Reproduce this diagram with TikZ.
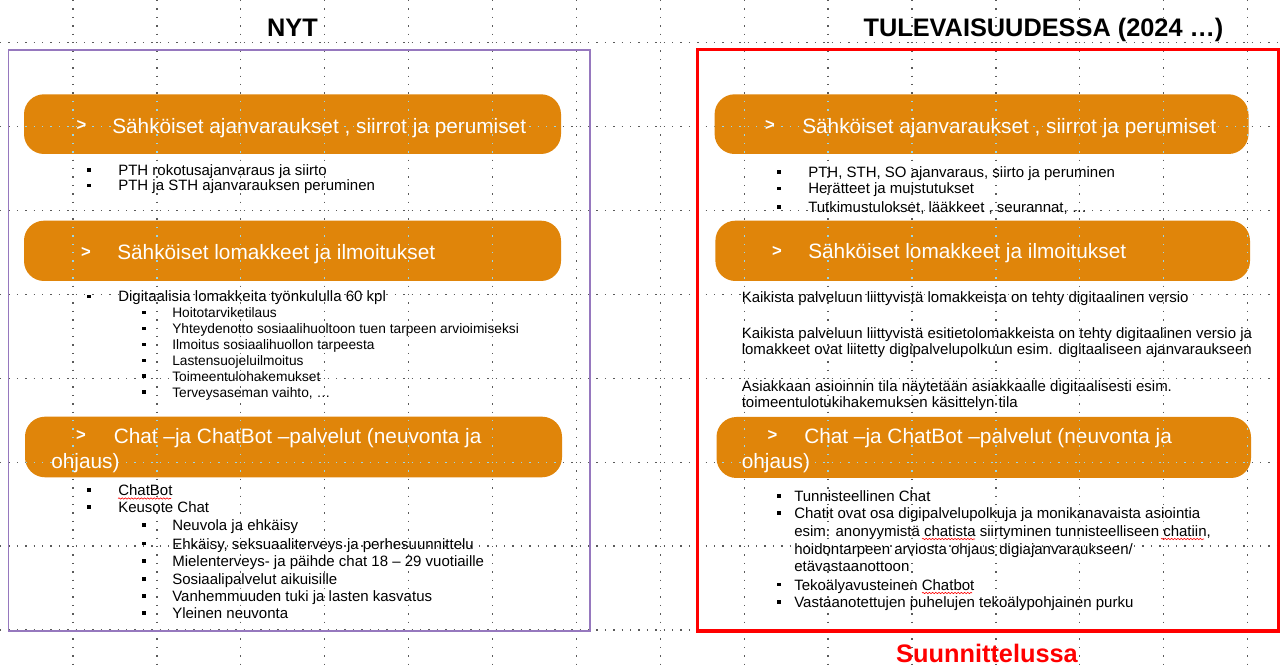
\documentclass[tikz,border=0pt]{standalone}
\usepackage{fontspec}
\setmainfont{Liberation Sans}
\usetikzlibrary{decorations.pathmorphing}
\definecolor{pillorange}{RGB}{224,133,10}
\definecolor{boxpurple}{RGB}{150,120,190}
\definecolor{gridcyan}{RGB}{150,215,235}
\definecolor{griddot}{RGB}{90,90,90}
\tikzset{
  pill/.style={fill=pillorange, rounded corners=15pt},
  body/.style={inner sep=0pt, anchor=base west, font=\fontsize{11.25}{13}\selectfont},
  bodysmall/.style={body, font=\fontsize{10.3}{12}\selectfont},
  head/.style={inner sep=0pt, anchor=base west, text=white, font=\fontsize{15.6}{18}\selectfont},
  arrowmark/.style={inner sep=0pt, text=white, font=\bfseries\fontsize{12.5}{14}\selectfont},
  title/.style={inner sep=0pt, anchor=base, font=\bfseries\fontsize{19}{22}\selectfont},
  gridline/.style={line width=1pt, dash pattern=on 1pt off 5.3pt},
  spell/.style={red, line width=0.45pt, decorate, decoration={snake, amplitude=0.5pt, segment length=2.4pt}}
}
\newcommand\bitem[6][body]{%
  \fill ({#3-1.8},{#5-7.4}) rectangle ({#3+1.8},{#5-3.7});
  \node[#1] (#2) at (#4,#5) {#6};}
\newcommand\gridall[1]{%
  \foreach \k in {0,...,14} \draw[gridline, #1] ({73+83.9*\k},0) -- ({73+83.9*\k},666);
  \foreach \k in {0,...,7} \draw[gridline, #1] (0,{42.7+83.9*\k}) -- (1282,{42.7+83.9*\k});}
\begin{document}
\begin{tikzpicture}[x=0.75pt,y=-0.75pt]
\useasboundingbox (0,0) rectangle (1282,666);
\fill[white] (0,0) rectangle (1282,666);

% guide grid
\gridall{griddot}

% panels
\draw[boxpurple, line width=1.1pt] (8.3,50) rectangle (590,631);
\draw[red, line width=2.3pt] (697.7,49.5) rectangle (1278.7,631);

% pills
\fill[pill] (24,94.3) rectangle (561,154);
\fill[pill] (24,220.7) rectangle (561,281);
\fill[pill] (25,416.7) rectangle (562,477.3);
\fill[pill] (714.6,94.3) rectangle (1248.5,154);
\fill[pill] (715.4,220.7) rectangle (1250,281);
\fill[pill] (716.5,417) rectangle (1251,478);
\begin{scope}
  \clip[rounded corners=15pt] (24,94.3) rectangle (561,154) (24,220.7) rectangle (561,281)
    (25,416.7) rectangle (562,477.3) (714.6,94.3) rectangle (1248.5,154)
    (715.4,220.7) rectangle (1250,281) (716.5,417) rectangle (1251,478);
  \gridall{gridcyan}
\end{scope}

% titles
\node[title] (nyt) at (292.5,36.5) {NYT};
\node[title] (tul) at (1043.5,36.5) {TULEVAISUUDESSA (2024 …)};
\node[title, text=red] (suun) at (987,662) {Suunnittelussa};

% pill headings, left
\node[arrowmark] (a1) at (81.5,126) {>};
\node[head] (h1) at (112,133.3) {Sähköiset ajanvaraukset , siirrot ja perumiset};
\node[arrowmark] (a2) at (86,252.3) {>};
\node[head] (h2) at (117,259.5) {Sähköiset lomakkeet ja ilmoitukset};
\node[arrowmark] (a3) at (81,436) {>};
\node[head] (h3a) at (113.5,443.5) {Chat –ja ChatBot –palvelut (neuvonta ja};
\node[head] (h3b) at (51,469) {ohjaus)};
% pill headings, right
\node[arrowmark] (a4) at (770,126) {>};
\node[head] (h4) at (802,133.3) {Sähköiset ajanvaraukset , siirrot ja perumiset};
\node[arrowmark] (a5) at (777,251.7) {>};
\node[head] (h5) at (808,259) {Sähköiset lomakkeet ja ilmoitukset};
\node[arrowmark] (a6) at (772.5,436) {>};
\node[head] (h6a) at (804,443.5) {Chat –ja ChatBot –palvelut (neuvonta ja};
\node[head] (h6b) at (741.5,469) {ohjaus)};

% left lists
\bitem{l11}{89}{118}{175.7}{PTH rokotusajanvaraus ja siirto}
\bitem{l12}{89}{118}{191}{PTH ja STH ajanvarauksen peruminen}

\bitem{l21}{89}{118}{302}{Digitaalisia lomakkeita työnkululla 60 kpl}
\bitem[bodysmall]{l22}{144}{172}{318}{Hoitotarviketilaus}
\bitem[bodysmall]{l23}{144}{172}{334}{Yhteydenotto sosiaalihuoltoon tuen tarpeen arvioimiseksi}
\bitem[bodysmall]{l24}{144}{172}{350}{Ilmoitus sosiaalihuollon tarpeesta}
\bitem[bodysmall]{l25}{144}{172}{366}{Lastensuojeluilmoitus}
\bitem[bodysmall]{l26}{144}{172}{381.5}{Toimeentulohakemukset}
\bitem[bodysmall]{l27}{144}{172}{397.5}{Terveysaseman vaihto, …}

\bitem{l31}{89}{118}{495.7}{ChatBot}
\bitem{l32}{89}{118}{512.3}{Keusote Chat}
\bitem{l33}{144}{172}{530.7}{Neuvola ja ehkäisy}
\bitem{l34}{144}{172}{549}{Ehkäisy, seksuaaliterveys ja perhesuunnittelu}
\bitem{l35}{144}{172}{566.7}{Mielenterveys- ja päihde chat 18 – 29 vuotiaille}
\bitem{l36}{144}{172}{584.3}{Sosiaalipalvelut aikuisille}
\bitem{l37}{144}{172}{601.7}{Vanhemmuuden tuki ja lasten kasvatus}
\bitem{l38}{144}{172}{618.3}{Yleinen neuvonta}

% right lists
\bitem{r11}{778.7}{808}{177.7}{PTH, STH, SO ajanvaraus, siirto ja peruminen}
\bitem{r12}{778.7}{808}{194}{Herätteet ja muistutukset}
\bitem{r13}{778.7}{808}{212.3}{Tutkimustulokset, lääkkeet , seurannat, …}

\node[body] (r21) at (741.5,303) {Kaikista palveluun liittyvistä lomakkeista on tehty digitaalinen versio};
\node[body] (r22) at (741.5,339) {Kaikista palveluun liittyvistä esitietolomakkeista on tehty digitaalinen versio ja};
\node[body] (r23) at (741.5,355) {lomakkeet ovat liitetty digipalvelupolkuun esim. digitaaliseen ajanvaraukseen};
\node[body] (r24) at (741.5,392) {Asiakkaan asioinnin tila näytetään asiakkaalle digitaalisesti esim.};
\node[body] (r25) at (741.5,408) {toimeentulotukihakemuksen käsittelyn tila};

\bitem{r31}{778.7}{794}{501.7}{Tunnisteellinen Chat}
\bitem{r32}{778.7}{794}{518.3}{Chatit ovat osa digipalvelupolkuja ja monikanavaista asiointia}
\node[body] (r33) at (794,536.7) {esim. anonyymistä chatista siirtyminen tunnisteelliseen chatiin,};
\node[body] (r34) at (794,554.3) {hoidontarpeen arviosta ohjaus digiajanvaraukseen/};
\node[body] (r35) at (794,571.7) {etävastaanottoon};
\bitem{r36}{778.7}{794}{590}{Tekoälyavusteinen Chatbot}
\bitem{r37}{778.7}{794}{607.7}{Vastaanotettujen puhelujen tekoälypohjainen purku}

% spell-check underlines
\draw[spell] (118,498.5) -- (171,498.5);
\draw[spell] (922,539) -- (975,539);
\draw[spell] (1161,539) -- (1204,539);
\draw[spell] (922,593) -- (972,593);
\end{tikzpicture}
\end{document}
